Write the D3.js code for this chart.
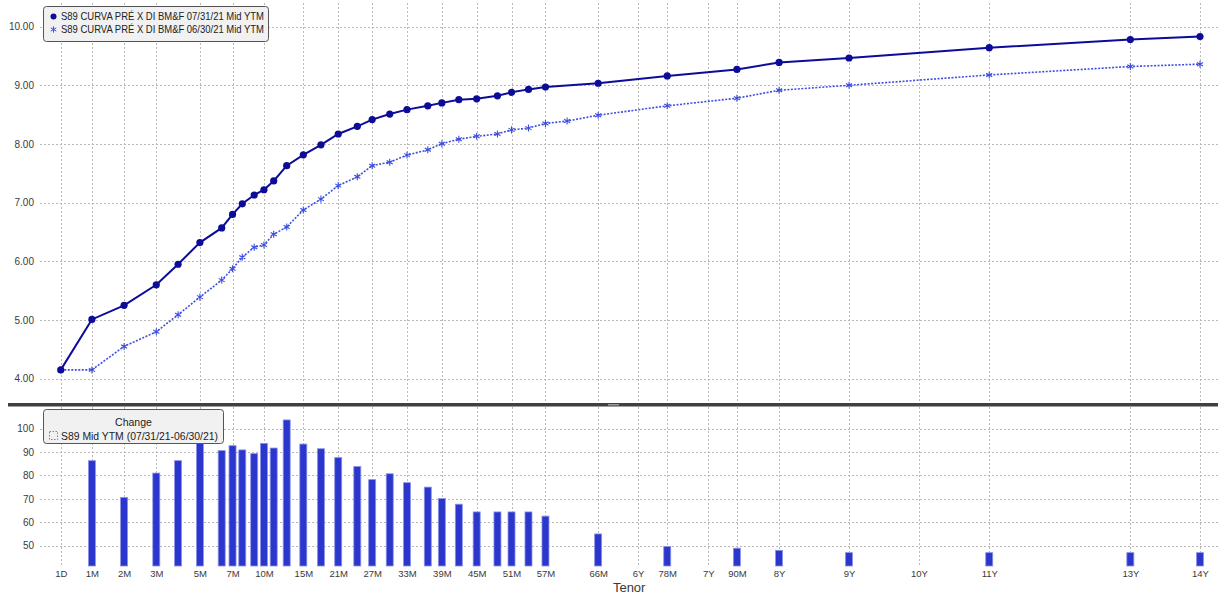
<!DOCTYPE html>
<html>
<head>
<meta charset="utf-8">
<script src="https://cdn.jsdelivr.net/npm/d3@7/dist/d3.min.js"></script>
<style>
  html, body { margin: 0; padding: 0; background: #fff; }
  svg { display: block; font-family: "Liberation Sans", Arial, sans-serif; }
</style>
</head>
<body>
<svg id="chart" width="1224" height="596"></svg>
<script>
// ---------------- DATA ----------------
const tenors = ["1D","1M","2M","3M","4M","5M","6M","7M","8M","9M","10M","11M","12M",
  "15M","18M","21M","24M","27M","30M","33M","36M","39M","42M","45M","48M","51M","54M","57M",
  "60M","66M","78M","90M","8Y","9Y","11Y","13Y","14Y"];
// maturity in months, as read from point positions
const tenorMonths = [0.033,1,2,3,4,5,6,7,7.9,9,9.9,10.8,12,
  14.84,17.85,20.8,24.06,26.6,29.6,32.55,36.1,38.5,41.4,44.45,48.0,50.4,53.3,56.2,
  59.9,65.2,77.0,88.9,96.1,108.05,132,156.1,168];
const curve0731 = [4.15,5.01,5.25,5.60,5.95,6.32,6.57,6.80,6.98,7.13,7.22,7.37,7.63,
  7.815,7.985,8.17,8.30,8.415,8.51,8.585,8.65,8.70,8.755,8.77,8.82,8.88,8.93,8.97,
  null,9.035,9.16,9.27,9.39,9.465,9.64,9.78,9.83];
const curve0630 = [4.15,4.15,4.55,4.80,5.09,5.39,5.68,5.875,6.07,6.24,6.28,6.46,6.585,
  6.875,7.06,7.29,7.44,7.63,7.69,7.81,7.90,8.005,8.08,8.13,8.17,8.24,8.27,8.35,
  8.39,8.49,8.65,8.78,8.915,9.00,9.176,9.32,9.36];
const changeBp = [0,86.3,70.6,81.0,86.3,93.6,90.6,92.7,90.9,89.3,93.7,91.7,103.7,
  93.4,91.4,87.6,83.8,78.2,80.7,76.9,75.0,70.1,67.7,64.4,64.4,64.4,64.4,62.6,
  null,55.0,49.6,48.9,48.0,47.0,47.0,47.0,47.0];
const tickLabels = ["1D","1M","2M","3M","5M","7M","10M","15M","21M","27M","33M","39M","45M",
  "51M","57M","66M","6Y","78M","7Y","90M","8Y","9Y","10Y","11Y","13Y","14Y"];
const topYTicks = [4,5,6,7,8,9,10];
const botYTicks = [50,60,70,80,90,100];
const legendTop = ["S89 CURVA PRÉ X DI BM&F 07/31/21 Mid YTM", "S89 CURVA PRÉ X DI BM&F 06/30/21 Mid YTM"];
const legendBotTitle = "Change";
const legendBot = "S89 Mid YTM (07/31/21-06/30/21)";
const axisTitle = "Tenor";

// ---------------- LAYOUT ----------------
const svg = d3.select("#chart");
const gridL = 40, gridR = 1218;
const topP = {y0: 3, y1: 401};
const botP = {y0: 407, y1: 566};
const X0 = 59.7, X1 = 1200, W = X1 - X0;

// tenor axis: compressed short end, linear beyond 1Y
const x = d3.scaleLinear()
  .domain([0, 3, 6, 12, 168])
  .range([X0, X0 + W*0.08471, X0 + W*0.14207, X0 + W*0.19907, X1]);

const yTop = d3.scaleLinear().domain([3.637, 10.368]).range([topP.y1 - 1, topP.y0 + 2]);
const yBot = d3.scaleLinear().domain([41.3, 108.8]).range([botP.y1, botP.y0 + 1]);

function tickMonth(lbl) {
  const i = tenors.indexOf(lbl);
  if (i >= 0) return tenorMonths[i];
  const m = lbl.match(/^(\d+)([DMY])$/);
  const n = +m[1];
  return m[2] === "Y" ? n*12 : (m[2] === "M" ? n : n/30);
}
const tickPos = tickLabels.map(tickMonth);

const gridColor = "#b8b8b8";
const txt = "#3a3a3a";

// ---------------- GRIDS ----------------
const g = svg.append("g");
[[topP.y0, topP.y1], [botP.y0, botP.y1]].forEach(([a, b]) => {
  g.append("g").selectAll("line").data(tickPos).join("line")
    .attr("x1", d => Math.round(x(d)) + 0.5).attr("x2", d => Math.round(x(d)) + 0.5)
    .attr("y1", a).attr("y2", b)
    .attr("stroke", gridColor).attr("stroke-width", 1).attr("stroke-dasharray", "2,2");
});
g.append("g").selectAll("line").data(topYTicks).join("line")
  .attr("x1", gridL).attr("x2", gridR)
  .attr("y1", d => Math.round(yTop(d)) + 0.5).attr("y2", d => Math.round(yTop(d)) + 0.5)
  .attr("stroke", gridColor).attr("stroke-dasharray", "2,2");
g.append("g").selectAll("line").data(botYTicks).join("line")
  .attr("x1", gridL).attr("x2", gridR)
  .attr("y1", d => Math.round(yBot(d)) + 0.5).attr("y2", d => Math.round(yBot(d)) + 0.5)
  .attr("stroke", gridColor).attr("stroke-dasharray", "2,2");

// ---------------- Y AXES ----------------
const yAxTop = svg.append("g").attr("transform", "translate(34,0)")
  .call(d3.axisLeft(yTop).tickValues(topYTicks).tickFormat(d3.format(".2f")).tickSize(0).tickPadding(0));
const yAxBot = svg.append("g").attr("transform", "translate(34,0)")
  .call(d3.axisLeft(yBot).tickValues(botYTicks).tickFormat(d3.format("d")).tickSize(0).tickPadding(0));
[yAxTop, yAxBot].forEach(a => {
  a.select(".domain").remove();
  a.selectAll("text").attr("fill", txt).style("font-size", "10px").style("font-family", "Liberation Sans, Arial, sans-serif");
});

// ---------------- X AXIS ----------------
const xAx = svg.append("g").attr("transform", `translate(0,${botP.y1 + 2})`)
  .call(d3.axisBottom(x).tickValues(tickPos).tickFormat((d, i) => tickLabels[i]).tickSize(0).tickPadding(2));
xAx.select(".domain").remove();
xAx.selectAll("text").attr("fill", txt).style("font-size", "9.5px").style("font-family", "Liberation Sans, Arial, sans-serif");
svg.append("text").attr("x", x(70.5)).attr("y", 592).attr("text-anchor", "middle")
  .attr("fill", txt).style("font-size", "13px").text(axisTitle);

// ---------------- SEPARATOR ----------------
svg.append("rect").attr("x", 8).attr("y", 403).attr("width", 1210).attr("height", 3.5).attr("fill", "#404040");
svg.append("rect").attr("x", 608).attr("y", 404).attr("width", 11).attr("height", 1.5).attr("fill", "#9a9a9a");

// ---------------- LINES ----------------
const ptsNew = tenorMonths.map((t, i) => ({t, v: curve0731[i]})).filter(d => d.v != null);
const ptsOld = tenorMonths.map((t, i) => ({t, v: curve0630[i]})).filter(d => d.v != null);
const line = d3.line().x(d => x(d.t)).y(d => yTop(d.v));

const oldCol = "#3d4ee0", newCol = "#0c0c98";
svg.append("path").datum(ptsOld).attr("d", line).attr("fill", "none")
  .attr("stroke", oldCol).attr("stroke-width", 1.6).attr("stroke-dasharray", "2,1.5");
svg.append("g").selectAll("path").data(ptsOld).join("path")
  .attr("transform", d => `translate(${x(d.t)},${yTop(d.v)})`)
  .attr("d", d3.symbol(d3.symbolAsterisk, 34))
  .attr("fill", "none").attr("stroke", oldCol).attr("stroke-width", 1.1);

svg.append("path").datum(ptsNew).attr("d", line).attr("fill", "none")
  .attr("stroke", newCol).attr("stroke-width", 2);
svg.append("g").selectAll("circle").data(ptsNew).join("circle")
  .attr("cx", d => x(d.t)).attr("cy", d => yTop(d.v)).attr("r", 3.6)
  .attr("fill", newCol);

// ---------------- BARS ----------------
const bw = 7;
const barData = tenorMonths.map((t, i) => ({t, v: changeBp[i]}))
  .filter(d => d.v != null && d.v > yBot.domain()[0]);
svg.append("g").selectAll("rect").data(barData).join("rect")
  .attr("x", d => x(d.t) - bw/2).attr("width", bw)
  .attr("y", d => yBot(d.v)).attr("height", d => yBot(yBot.domain()[0]) - yBot(d.v))
  .attr("fill", "#2a36cc").attr("stroke", "#8c93ea").attr("stroke-width", 0.8);

// ---------------- LEGENDS ----------------
const lt = svg.append("g");
lt.append("rect").attr("x", 43.5).attr("y", 6.5).attr("width", 225).attr("height", 35).attr("rx", 3)
  .attr("fill", "#f1f1f1").attr("stroke", "#555").attr("stroke-width", 1);
lt.append("circle").attr("cx", 53.5).attr("cy", 16.5).attr("r", 3).attr("fill", newCol);
lt.append("path").attr("transform", "translate(53.5,29.5)").attr("d", d3.symbol(d3.symbolAsterisk, 28))
  .attr("fill", "none").attr("stroke", oldCol).attr("stroke-width", 1);
legendTop.forEach((s, i) => {
  lt.append("text").attr("x", 61).attr("y", 20 + i*13).attr("fill", "#222")
    .attr("textLength", 203).attr("lengthAdjust", "spacingAndGlyphs")
    .style("font-size", "10.5px").text(s);
});

const lb = svg.append("g");
lb.append("rect").attr("x", 43.5).attr("y", 409.5).attr("width", 180).attr("height", 34).attr("rx", 3)
  .attr("fill", "#f1f1f1").attr("stroke", "#555").attr("stroke-width", 1);
lb.append("text").attr("x", 133.5).attr("y", 425.5).attr("text-anchor", "middle").attr("fill", "#222")
  .style("font-size", "10.5px").text(legendBotTitle);
lb.append("rect").attr("x", 49.5).attr("y", 431.5).attr("width", 8).attr("height", 8)
  .attr("fill", "none").attr("stroke", "#6f7ae6").attr("stroke-dasharray", "1.5,1.5");
lb.append("text").attr("x", 61).attr("y", 439.5).attr("fill", "#222")
  .attr("textLength", 157).attr("lengthAdjust", "spacingAndGlyphs")
  .style("font-size", "10.5px").text(legendBot);
</script>
</body>
</html>
